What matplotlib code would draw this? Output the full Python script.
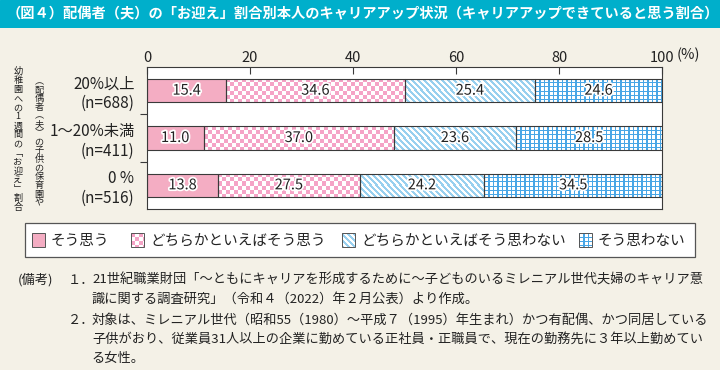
import numpy as np
import matplotlib
matplotlib.use("Agg")
import matplotlib.pyplot as plt
from matplotlib.patches import Rectangle
import matplotlib.patheffects as pe

plt.rcParams['font.family'] = ['Noto Sans CJK JP', 'DejaVu Sans']

# ---------------- data ----------------
title = "（図４）配偶者（夫）の「お迎え」割合別本人のキャリアアップ状況（キャリアアップできていると思う割合）"
categories = ["20%以上\n(n=688)", "1～20%未満\n(n=411)", "0 %\n(n=516)"]
series_names = ["そう思う", "どちらかといえばそう思う", "どちらかといえばそう思わない", "そう思わない"]
s_yes = [15.4, 11.0, 13.8]
s_rather_yes = [34.6, 37.0, 27.5]
s_rather_no = [25.4, 23.6, 24.2]
s_no = [24.6, 28.5, 34.5]
xticks = [0, 20, 40, 60, 80, 100]
xtick_labels = ["0", "20", "40", "60", "80", "100"]
unit_label = "(%)"
ylabel_col1 = "幼稚園への1週間の﹁お迎え﹂割合"
ylabel_col2 = "︵配偶者︵夫︶の子供の保育園や"
note_head = "(備考)"
notes = [
    ("１．", ["21世紀職業財団「～ともにキャリアを形成するために～子どものいるミレニアル世代夫婦のキャリア意",
             "識に関する調査研究」（令和４（2022）年２月公表）より作成。"]),
    ("２．", ["対象は、ミレニアル世代（昭和55（1980）～平成７（1995）年生まれ）かつ有配偶、かつ同居している",
             "子供がおり、従業員31人以上の企業に勤めている正社員・正職員で、現在の勤務先に３年以上勤めてい",
             "る女性。"]),
]

# ---------------- style ----------------
W, H = 720, 370
BG = "#f4f1e7"
TEAL = "#00afcb"
PINK = "#f4adc3"
CHECK_PINK = "#f5a3c6"
STRIPE_BLUE = "#98d0ef"
GRID_BLUE = "#48a6e6"
EDGE = "#3a3a3a"
TXT = "#222222"


def hex2rgb(c):
    c = c.lstrip("#")
    return np.array([int(c[k:k + 2], 16) / 255 for k in (0, 2, 4)])


def texture(kind, h, w):
    i, j = np.mgrid[0:max(h, 1), 0:max(w, 1)]
    white = np.ones(3)
    if kind == "solid":
        mask = np.ones_like(i, dtype=bool)
        col = hex2rgb(PINK)
    elif kind == "checker":
        mask = ((i // 4 + j // 4) % 2) == 0
        col = hex2rgb(CHECK_PINK)
    elif kind == "stripe":
        mask = ((i - j) % 6) < 3
        col = hex2rgb(STRIPE_BLUE)
    else:
        mask = np.isin(j % 9, (0, 4, 5)) | np.isin(i % 8, (0, 4))
        col = hex2rgb(GRID_BLUE)
    img = np.where(mask[..., None], col, white)
    return img


kinds = ["solid", "checker", "stripe", "grid"]
series = [s_yes, s_rather_yes, s_rather_no, s_no]

fig = plt.figure(figsize=(W / 100, H / 100), dpi=100, facecolor=BG)

# title band
band = fig.add_axes([0, 1 - 28 / H, 1, 28 / H])
band.set_axis_off()
band.add_patch(Rectangle((0, 0), 1, 1, transform=band.transAxes, color=TEAL))
fig.text(7 / W, 1 - 14.5 / H, title, color="white", fontsize=10.25, fontweight="bold",
         va="center", ha="left")

# main axes
ax_l, ax_r, ax_t, ax_b = 147, 662, 67, 209
ax = fig.add_axes([ax_l / W, 1 - ax_b / H, (ax_r - ax_l) / W, (ax_b - ax_t) / H])
ax.set_facecolor("white")
ax.set_xlim(0, 100)
ax.set_ylim(2.5, -0.5)
y = np.arange(len(categories))
bar_h = 0.49

fig.canvas.draw()
left = np.zeros(len(categories))
for vals, kind in zip(series, kinds):
    bars = ax.barh(y, vals, left=left, height=bar_h, facecolor="none",
                   edgecolor=EDGE, linewidth=0.8, zorder=3)
    for b, v, l, yy in zip(bars, vals, left, y):
        x0, x1 = l, l + v
        y0, y1 = yy - bar_h / 2, yy + bar_h / 2
        p0 = ax.transData.transform((x0, y0))
        p1 = ax.transData.transform((x1, y1))
        wpx = int(round(abs(p1[0] - p0[0])))
        hpx = int(round(abs(p1[1] - p0[1])))
        im = ax.imshow(texture(kind, hpx, wpx), extent=(x0, x1, y1, y0),
                       aspect="auto", interpolation="nearest", zorder=2, origin="upper")
        im.set_clip_path(b)
        ax.text(l + v / 2, yy, f"{v:.1f}", ha="center", va="center", fontsize=10.5,
                color=TXT, zorder=4,
                path_effects=[pe.withStroke(linewidth=2.5, foreground="white")])
    left = left + np.array(vals)
ax.set_xlim(0, 100)
ax.set_ylim(2.5, -0.5)

for s in ax.spines.values():
    s.set_color(EDGE)
    s.set_linewidth(0.8)

ax.xaxis.tick_top()
ax.set_xticks(xticks, xtick_labels)
ax.tick_params(axis="x", direction="in", length=5, width=0.8, color=EDGE,
               labelsize=10.5, labelcolor=TXT, pad=1.5)
ax.set_yticks(y, categories)
ax.tick_params(axis="y", length=0, pad=9, labelsize=11, labelcolor=TXT)
for lab in ax.get_yticklabels():
    lab.set_multialignment("right")
ax.set_yticks([0.5, 1.5], minor=True)
ax.tick_params(axis="y", which="minor", direction="out", length=5, width=0.8, color=EDGE)

# vertical y-axis title (two columns)
for col_text, cx, top, bot in [(ylabel_col1, 18, 67, 212), (ylabel_col2, 39, 77, 207)]:
    n = len(col_text)
    step = (bot - top) / n
    for k, ch in enumerate(col_text):
        fig.text(cx / W, 1 - (top + step * (k + 0.5)) / H, ch, ha="center", va="center",
                 fontsize=6.6, color=TXT)

# overlay axes in pixel coordinates for legend / notes
ov = fig.add_axes([0, 0, 1, 1], zorder=-1)
ov.set_xlim(0, W)
ov.set_ylim(H, 0)
ov.set_axis_off()
ov.text(677, 55, unit_label, ha="left", va="center", fontsize=10.5, color=TXT)
ov.add_patch(Rectangle((25, 223), 670, 34, facecolor="white", edgecolor="#555555", linewidth=0.9))
sw_x = [32, 131, 342, 579]
for name, kind, sx in zip(series_names, kinds, sw_x):
    sw = Rectangle((sx, 233), 13, 14, facecolor="none", edgecolor="#555555", linewidth=0.7, zorder=3)
    ov.add_patch(sw)
    im = ov.imshow(texture(kind, 14, 13), extent=(sx, sx + 13, 247, 233), aspect="auto",
                   interpolation="nearest", zorder=2, origin="upper")
    im.set_clip_path(sw)
    ov.text(sx + 19, 240.5, name, ha="left", va="center", fontsize=10.5, color=TXT)
ov.set_xlim(0, W)
ov.set_ylim(H, 0)

# notes
fs = 9.5
line_y = [280, 299, 320, 339, 358]
ov.text(18, line_y[0], note_head, ha="left", va="center", fontsize=fs, color=TXT)
k = 0
for num, lines in notes:
    ov.text(68, line_y[k], num, ha="left", va="center", fontsize=fs, color=TXT)
    for ln in lines:
        ov.text(92, line_y[k], ln, ha="left", va="center", fontsize=fs, color=TXT)
        k += 1

fig.savefig("out.png", dpi=100, facecolor=BG)
